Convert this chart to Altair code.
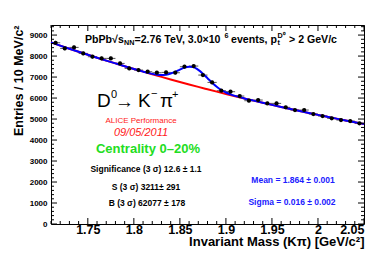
import altair as alt
import pandas as pd

# ---------------- data ----------------
mass = [1.715, 1.725, 1.735, 1.745, 1.755, 1.765, 1.775, 1.785, 1.795, 1.805,
        1.815, 1.825, 1.835, 1.845, 1.855, 1.865, 1.875, 1.885, 1.895, 1.905,
        1.915, 1.925, 1.935, 1.945, 1.955, 1.965, 1.975, 1.985, 1.995, 2.005,
        2.015, 2.025, 2.035, 2.045]
counts = [8633, 8365, 8413, 8127, 7968, 7889, 7889, 7651, 7413, 7333,
          7254, 7206, 7222, 7206, 7492, 7524, 7095, 6746, 6349, 6302,
          6095, 5873, 5905, 5746, 5746, 5556, 5429, 5429, 5238, 5143,
          5032, 4952, 4905, 4794]
errors = [93, 91, 92, 90, 89, 89, 89, 87, 86, 86,
          85, 85, 85, 85, 87, 87, 84, 82, 80, 79,
          78, 77, 77, 76, 76, 75, 74, 74, 72, 72,
          71, 70, 70, 69]

bkg_x = [1.71, 1.72, 1.73, 1.74, 1.75, 1.76, 1.77, 1.78, 1.79, 1.80, 1.81, 1.82,
         1.83, 1.84, 1.85, 1.86, 1.87, 1.88, 1.89, 1.90, 1.91, 1.92, 1.93, 1.94,
         1.95, 1.96, 1.97, 1.98, 1.99, 2.00, 2.01, 2.02, 2.03, 2.04, 2.05]
bkg_y = [8650, 8499, 8351, 8206, 8063, 7923, 7785, 7650, 7516, 7386, 7257, 7131,
         7007, 6885, 6765, 6647, 6531, 6418, 6306, 6196, 6088, 5982, 5878, 5776,
         5675, 5576, 5479, 5384, 5290, 5198, 5108, 5019, 4931, 4845, 4761]

tot_x = [1.71, 1.72, 1.73, 1.74, 1.75, 1.76, 1.77, 1.78, 1.79, 1.80, 1.81,
         1.82, 1.825, 1.83, 1.835, 1.84, 1.845, 1.85, 1.855, 1.86, 1.864, 1.87,
         1.875, 1.88, 1.885, 1.89, 1.895, 1.90, 1.905, 1.91,
         1.92, 1.93, 1.94, 1.95, 1.96, 1.97, 1.98, 1.99, 2.00, 2.01, 2.02,
         2.03, 2.04, 2.05]
tot_y = [8650, 8499, 8351, 8206, 8063, 7923, 7785, 7650, 7516, 7386, 7258,
         7151, 7114, 7098, 7114, 7167, 7255, 7358, 7449, 7490, 7485, 7342,
         7161, 6946, 6730, 6538, 6384, 6265, 6175, 6102,
         5982, 5878, 5776, 5675, 5576, 5479, 5384, 5290, 5198, 5108, 5019,
         4931, 4845, 4761]

x_major = [1.75, 1.80, 1.85, 1.90, 1.95, 2.00, 2.05]
x_minor = [1.71, 1.72, 1.73, 1.74, 1.76, 1.77, 1.78, 1.79, 1.81, 1.82, 1.83, 1.84,
           1.86, 1.87, 1.88, 1.89, 1.91, 1.92, 1.93, 1.94, 1.96, 1.97, 1.98, 1.99,
           2.01, 2.02, 2.03, 2.04]
y_major = [0, 1000, 2000, 3000, 4000, 5000, 6000, 7000, 8000, 9000]
y_minor = [200, 400, 600, 800, 1200, 1400, 1600, 1800, 2200, 2400, 2600, 2800,
           3200, 3400, 3600, 3800, 4200, 4400, 4600, 4800, 5200, 5400, 5600,
           5800, 6200, 6400, 6600, 6800, 7200, 7400, 7600, 7800, 8200, 8400,
           8600, 8800, 9200, 9400]

W, H = 313, 199
FONT = "Liberation Sans"

xs = alt.Scale(domain=[1.71, 2.05], nice=False, zero=False)
ys = alt.Scale(domain=[0, 9480], nice=False, zero=True)

pts = pd.DataFrame({"m": mass, "n": counts, "e": errors})
pts["lo"] = pts["n"] - pts["e"]
pts["hi"] = pts["n"] + pts["e"]
pts["ml"] = pts["m"] - 0.005
pts["mh"] = pts["m"] + 0.005

base = alt.Chart(pts)

xaxis = alt.Axis(values=x_major, format="~g", labelOverlap=False,
                 domain=False, ticks=False, grid=False,
                 title="Invariant Mass (Kπ) [GeV/c²]")
yaxis = alt.Axis(values=y_major, format="d", labelOverlap=False,
                 domain=False, ticks=False, grid=False,
                 title="Entries / 10 MeV/c²")


def X(f):
    return alt.X(f, scale=xs, axis=xaxis)


def Y(f):
    return alt.Y(f, scale=ys, axis=yaxis)


hbar = base.mark_rule(color="#555555", strokeWidth=1).encode(
    x=X("ml:Q"), x2="mh:Q", y=Y("n:Q"))
vbar = base.mark_rule(color="#555555", strokeWidth=1).encode(
    x=X("m:Q"), y=Y("lo:Q"), y2="hi:Q")
dots = base.mark_circle(color="black", opacity=1, size=18).encode(
    x=X("m:Q"), y=Y("n:Q"))

bkg = alt.Chart(pd.DataFrame({"x": bkg_x, "y": bkg_y})).mark_line(
    color="#ff0000", strokeWidth=2, interpolate="monotone").encode(
    x=X("x:Q"), y=Y("y:Q"))
tot = alt.Chart(pd.DataFrame({"x": tot_x, "y": tot_y})).mark_line(
    color="#0000ff", strokeWidth=2, interpolate="monotone").encode(
    x=X("x:Q"), y=Y("y:Q"))


def xt(vals, ln):
    d = alt.Chart(pd.DataFrame({"v": vals}))
    b = d.mark_rule(color="black", strokeWidth=1).encode(
        x=X("v:Q"), y=alt.value(H), y2=alt.value(H - ln))
    t = d.mark_rule(color="black", strokeWidth=1).encode(
        x=X("v:Q"), y=alt.value(0), y2=alt.value(ln))
    return [b, t]


def yt(vals, ln):
    d = alt.Chart(pd.DataFrame({"v": vals}))
    l = d.mark_rule(color="black", strokeWidth=1).encode(
        y=Y("v:Q"), x=alt.value(0), x2=alt.value(ln))
    r = d.mark_rule(color="black", strokeWidth=1).encode(
        y=Y("v:Q"), x=alt.value(W), x2=alt.value(W - ln))
    return [l, r]


ticks = xt(x_major, 6) + xt(x_minor, 3) + yt(y_major, 6) + yt(y_minor, 3)

one = alt.Data(values=[{"a": 1}])


def txt(s, px, py, size, color="black", weight="bold", style="normal",
        align="left"):
    return alt.Chart(one).mark_text(
        text=s, font=FONT, fontSize=size, fontWeight=weight, fontStyle=style,
        color=color, align=align, baseline="middle").encode(
        x=alt.value(px - 51), y=alt.value(py - 25))


TS = 10.6
SS = 7.2
texts = [
    txt("PbPb√s", 85, 40, TS),
    txt("NN", 124, 43, SS),
    txt("=2.76 TeV, 3.0×10", 134.5, 40, TS),
    txt("6", 224.5, 36, SS),
    txt("events, p", 231, 40, TS),
    txt("t", 277.5, 43, SS),
    txt("D⁰", 277.5, 35.5, SS),
    txt("> 2 GeV/c", 289, 40, TS),
    txt("D", 97, 101, 19, weight="normal"),
    txt("0", 111, 95, 11, weight="normal"),
    txt("→", 115, 102, 19, weight="normal"),
    txt("K", 138, 101, 19, weight="normal"),
    txt("−", 151, 94, 11, weight="normal"),
    txt("π", 160, 101, 19, weight="normal"),
    txt("+", 172, 95, 11, weight="normal"),
    txt("ALICE Performance", 141, 121, 8, color="#ff2020", weight="normal",
        align="center"),
    txt("09/05/2011", 141, 133, 11, color="#ff2020", weight="normal",
        style="italic", align="center"),
    txt("Centrality 0–20%", 148, 149, 13, color="#22dd22", align="center"),
    txt("Significance (3 σ) 12.6 ± 1.1", 146, 169, 8.5, align="center"),
    txt("S (3 σ) 3211± 291", 146, 187, 8.5, align="center"),
    txt("B (3 σ) 62077 ± 178", 147, 203, 8.5, align="center"),
    txt("Mean = 1.864 ± 0.001", 293, 180, 8.5, color="#2020ff", align="center"),
    txt("Sigma = 0.016 ± 0.002", 292, 202, 8.5, color="#2020ff",
        align="center"),
]

chart = alt.layer(hbar, vbar, bkg, tot, dots, *ticks, *texts).properties(
    width=W, height=H,
    autosize=alt.AutoSizeParams(type="none"),
    padding={"left": 43, "top": 17, "right": 10, "bottom": 30},
    background="white",
).configure_view(stroke="black", strokeWidth=1).configure_axis(
    domain=False, ticks=False, tickSize=0, grid=False, labelOverlap=False,
    labelFont=FONT, labelFontWeight="bold", labelColor="black",
    titleFont=FONT, titleFontWeight="bold", titleColor="black",
    titleAnchor="end",
).configure_axisX(
    labelFontSize=12.5, labelPadding=-1, titleFontSize=13, titlePadding=0,
).configure_axisY(
    labelFontSize=8, labelPadding=4, titleFontSize=12.5, titlePadding=4,
)

chart.save("out.html", embed_options={"renderer": "svg", "actions": False})
